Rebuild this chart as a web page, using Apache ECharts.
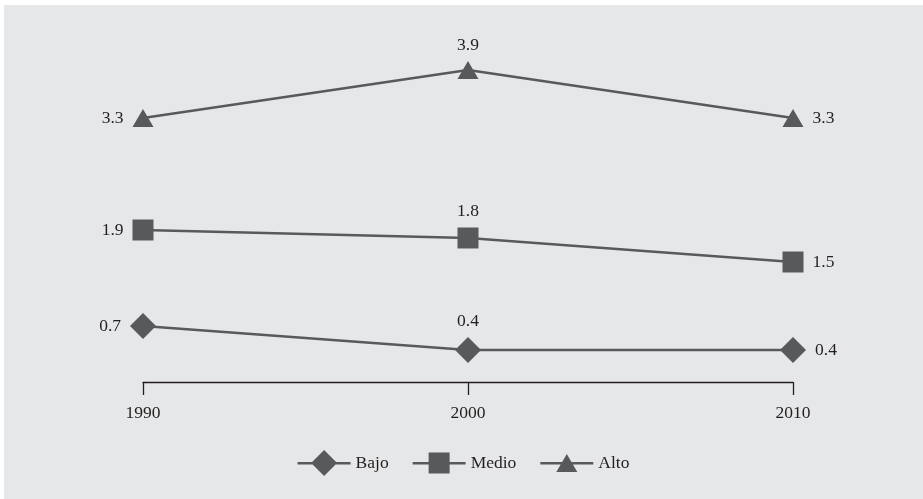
<!DOCTYPE html>
<html>
<head>
<meta charset="utf-8">
<script src="https://cdn.jsdelivr.net/npm/echarts@6/dist/echarts.min.js"></script>
<style>
html,body{margin:0;padding:0;background:#ffffff;width:923px;height:499px;overflow:hidden;}
#chart{position:absolute;left:4px;top:5px;width:919px;height:494px;}
</style>
</head>
<body>
<div id="chart"></div>
<script>
const years = ['1990', '2000', '2010'];
const seriesNames = ['Bajo', 'Medio', 'Alto'];
const bajo = [0.7, 0.4, 0.4];
const medio = [1.9, 1.8, 1.5];
const alto = [3.3, 3.9, 3.3];

const gray = '#58595b';
const ink = '#231f20';
const font = 'Liberation Serif';
const labelPos = ['left', 'top', 'right'];
const labelDist = [9, 7, 9];

function buildData(vals) {
  return vals.map((v, i) => ({
    value: v,
    label: { position: labelPos[i], distance: labelDist[i] }
  }));
}

const symbols = ['diamond', 'rect', 'triangle'];
const sizes = [26, 21, [21, 18]];
const icons = [
  'path://M0,12 L53,12 L53,14.5 L0,14.5 Z M26.5,0 L39.5,13 L26.5,26 L13.5,13 Z',
  'path://M0,9.5 L53,9.5 L53,12 L0,12 Z M16,0 L37,0 L37,21 L16,21 Z',
  'path://M0,8 L53,8 L53,10.5 L0,10.5 Z M26.5,0 L37,18 L16,18 Z'
];
const values = [bajo, medio, alto];

const chart = echarts.init(document.getElementById('chart'), null, { renderer: 'canvas' });
chart.setOption({
  animation: false,
  backgroundColor: '#e6e7e8',
  grid: { left: 139, right: 130, top: 57, bottom: 117 },
  legend: {
    left: 'center',
    top: 440,
    itemWidth: 53,
    itemHeight: 26,
    itemGap: 24,
    symbolKeepAspect: true,
    itemStyle: { color: gray, borderWidth: 0 },
    textStyle: { fontFamily: font, fontSize: 17.5, color: ink },
    data: seriesNames.map((n, i) => ({ name: n, icon: icons[i] }))
  },
  xAxis: {
    type: 'category',
    data: years,
    boundaryGap: false,
    axisLine: { lineStyle: { color: ink, width: 1.3 } },
    axisTick: { show: true, length: 13, inside: false, lineStyle: { color: ink, width: 1.3 } },
    axisLabel: { margin: 22, fontFamily: font, fontSize: 17.5, color: ink },
    splitLine: { show: false }
  },
  yAxis: {
    type: 'value',
    min: 0,
    max: 4,
    show: false,
    splitLine: { show: false }
  },
  series: seriesNames.map((n, i) => ({
    name: n,
    type: 'line',
    data: buildData(values[i]),
    symbol: symbols[i],
    symbolSize: sizes[i],
    showAllSymbol: true,
    lineStyle: { color: gray, width: 2.5 },
    itemStyle: { color: gray, borderWidth: 0 },
    label: {
      show: true,
      fontFamily: font,
      fontSize: 17.5,
      color: ink,
      formatter: p => p.value.toFixed(1)
    }
  }))
});
</script>
</body>
</html>
